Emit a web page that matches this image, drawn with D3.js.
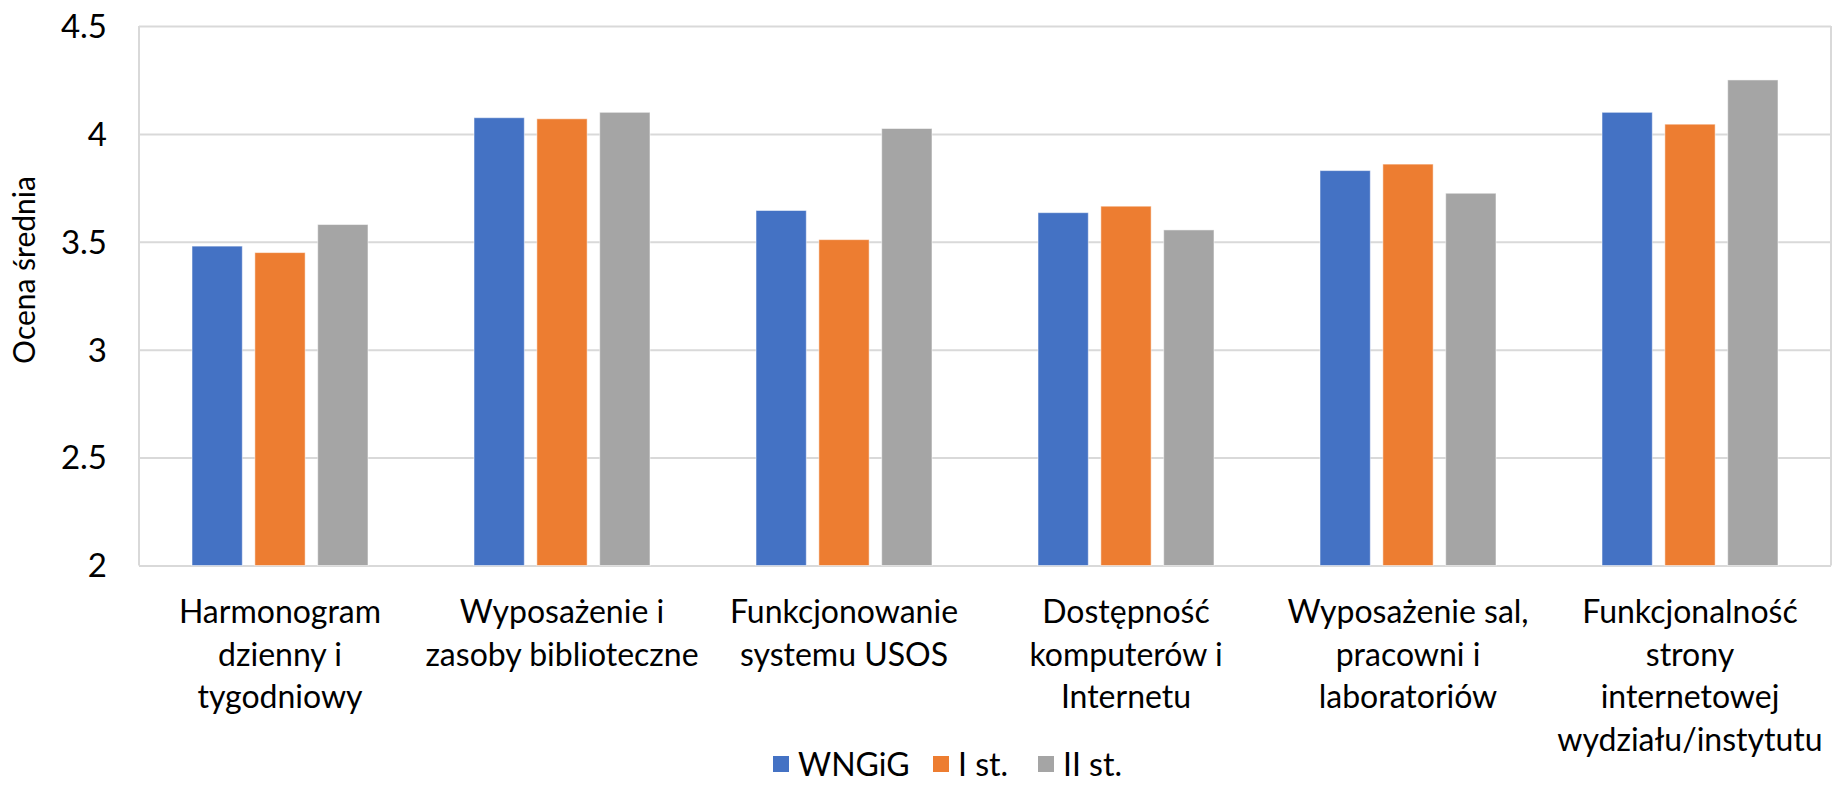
<!DOCTYPE html>
<html lang="pl">
<head>
<meta charset="utf-8">
<title>Ocena średnia</title>
<script src="https://cdn.jsdelivr.net/npm/d3@7"></script>
<style>
    body { margin: 0; background: #fff; }
    svg { display: block; font-family: Lato, "Open Sans", sans-serif; }
    .tick-label, .cat-label, .legend-label, .axis-title { fill: #000; }
</style>
</head>
<body>
<svg id="chart"></svg>
<script>
// Chart data
const categories = [
    'Harmonogram dzienny i tygodniowy',
    'Wyposażenie i zasoby biblioteczne',
    'Funkcjonowanie systemu USOS',
    'Dostępność komputerów i Internetu',
    'Wyposażenie sal, pracowni i laboratoriów',
    'Funkcjonalność strony internetowej wydziału/instytutu'
];
// Wrapped label lines, as in the picture
const categoryLines = [
    ['Harmonogram', 'dzienny i', 'tygodniowy'],
    ['Wyposażenie i', 'zasoby biblioteczne'],
    ['Funkcjonowanie', 'systemu USOS'],
    ['Dostępność', 'komputerów i', 'Internetu'],
    ['Wyposażenie sal,', 'pracowni i', 'laboratoriów'],
    ['Funkcjonalność', 'strony', 'internetowej', 'wydziału/instytutu']
];
const seriesNames = ['WNGiG', 'I st.', 'II st.'];
const wngigValues = [3.48, 4.075, 3.645, 3.635, 3.83, 4.10];
const firstDegreeValues = [3.45, 4.07, 3.51, 3.665, 3.86, 4.045];
const secondDegreeValues = [3.58, 4.10, 4.025, 3.555, 3.725, 4.25];
const yTicks = [2, 2.5, 3, 3.5, 4, 4.5];
const yTitle = 'Ocena średnia';

// Layout constants
const CONFIG = {
    width: 1832,
    height: 804,
    plot: { left: 139, right: 1831, top: 26, bottom: 565.5 },
    colors: ['#4472C4', '#ED7D31', '#A5A5A5'],
    grid: '#D9D9D9',
    fontSize: 32,
    lineHeight: 42.5
};

/**
 * Grouped bar chart
 */
function renderChart() {
    const { width, height, plot, colors } = CONFIG;
    const seriesValues = [wngigValues, firstDegreeValues, secondDegreeValues];

    const svg = d3.select('#chart')
        .attr('width', width)
        .attr('height', height);

    // Scales
    const x0 = d3.scaleBand()
        .domain(categories)
        .range([plot.left, plot.right])
        .paddingInner(0.376)
        .paddingOuter(0.188);

    const x1 = d3.scaleBand()
        .domain(seriesNames)
        .range([0, x0.bandwidth()])
        .paddingInner(0.2);

    const y = d3.scaleLinear()
        .domain([2, 4.5])
        .range([plot.bottom, plot.top]);

    // Horizontal gridlines
    svg.append('g')
        .attr('transform', `translate(${plot.left},0)`)
        .call(d3.axisLeft(y)
            .tickValues(yTicks)
            .tickSize(-(plot.right - plot.left))
            .tickFormat(''))
        .call(g => g.select('.domain').remove())
        .call(g => g.selectAll('line')
            .attr('stroke', CONFIG.grid)
            .attr('stroke-width', 2));

    // Plot area side borders
    svg.append('g')
        .selectAll('line')
        .data([plot.left, plot.right])
        .enter()
        .append('line')
        .attr('x1', d => d)
        .attr('x2', d => d)
        .attr('y1', y(4.5))
        .attr('y2', y(2))
        .attr('stroke', CONFIG.grid)
        .attr('stroke-width', 2);

    // Bars
    const groups = svg.append('g')
        .selectAll('g')
        .data(categories)
        .enter()
        .append('g')
        .attr('transform', d => `translate(${x0(d)},0)`);

    groups.selectAll('rect')
        .data((c, i) => seriesNames.map((s, k) => ({
            series: s, value: seriesValues[k][i], color: colors[k]
        })))
        .enter()
        .append('rect')
        .attr('x', d => x1(d.series))
        .attr('width', x1.bandwidth())
        .attr('y', d => y(d.value))
        .attr('height', d => y(2) - y(d.value))
        .attr('fill', d => d.color)
        .attr('stroke', '#fff')
        .attr('stroke-opacity', 0.5)
        .attr('stroke-width', 1);

    // Y tick labels
    svg.append('g')
        .selectAll('text')
        .data(yTicks)
        .enter()
        .append('text')
        .attr('class', 'tick-label')
        .attr('x', 107)
        .attr('y', d => y(d))
        .attr('dy', '0.36em')
        .attr('text-anchor', 'end')
        .attr('font-size', 33)
        .text(d => d);

    // Y axis title
    svg.append('text')
        .attr('class', 'axis-title')
        .attr('transform', 'translate(35,270) rotate(-90)')
        .attr('text-anchor', 'middle')
        .attr('font-size', 30)
        .text(yTitle);

    // Category labels
    const catLabels = svg.append('g')
        .selectAll('text')
        .data(categories)
        .enter()
        .append('text')
        .attr('class', 'cat-label')
        .attr('text-anchor', 'middle')
        .attr('font-size', CONFIG.fontSize)
        .attr('x', d => x0(d) + x0.bandwidth() / 2)
        .attr('y', 623);

    catLabels.selectAll('tspan')
        .data((d, i) => categoryLines[i])
        .enter()
        .append('tspan')
        .attr('x', function () { return d3.select(this.parentNode).attr('x'); })
        .attr('dy', (d, i) => i === 0 ? 0 : CONFIG.lineHeight)
        .text(d => d);

    // Legend
    const legendX = [773, 933, 1038];
    const legend = svg.append('g')
        .selectAll('g')
        .data(seriesNames)
        .enter()
        .append('g')
        .attr('transform', (d, i) => `translate(${legendX[i]},756)`);

    legend.append('rect')
        .attr('width', 16)
        .attr('height', 16)
        .attr('fill', (d, i) => colors[i]);

    legend.append('text')
        .attr('class', 'legend-label')
        .attr('x', 25)
        .attr('y', 8)
        .attr('dy', '0.36em')
        .attr('font-size', CONFIG.fontSize)
        .text(d => d);
}

document.addEventListener('DOMContentLoaded', renderChart);
</script>
</body>
</html>
